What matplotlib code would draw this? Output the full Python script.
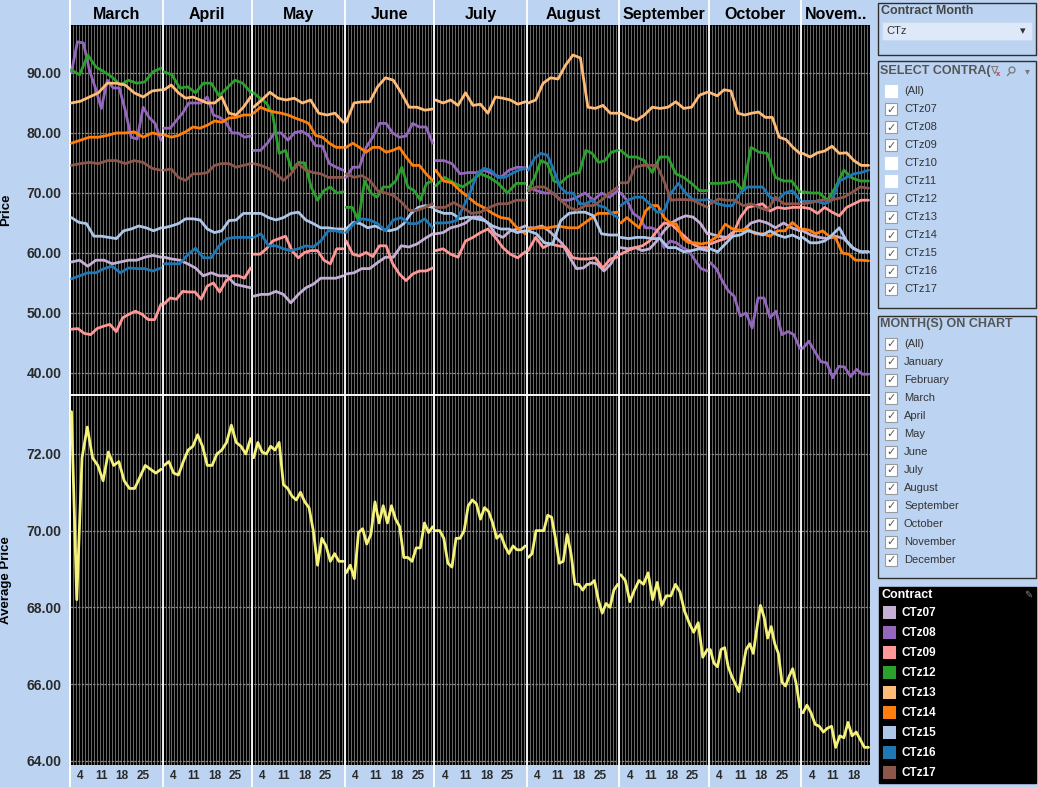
import numpy as np
import matplotlib.pyplot as plt
from matplotlib.patches import Rectangle, Circle

plt.rcParams['font.family'] = ['Liberation Sans', 'DejaVu Sans']

# --- DATA (values read per month, evenly spread over the days of that month) ---
MONTHS = ["March", "April", "May", "June", "July", "August", "September", "October", "Novem.."]
MONTH_DAYS = [31, 30, 31, 30, 31, 31, 30, 31, 23]
DAY_TICKS = [4, 11, 18, 25]

ctz07 = [
    [58.5, 58.8, 57.8, 58.8, 58.8, 58.2, 58.5, 58.8, 58.8, 59.3, 59.6, 59.3],
    [59.3, 59.0, 58.8, 58.2, 57.5, 56.2, 56.7, 56.2, 56.2, 54.8, 54.5, 54.2],
    [52.8, 53.1, 53.1, 53.6, 53.1, 51.7, 53.1, 54.2, 54.8, 55.8, 55.8, 55.8, 56.2],
    [56.5, 56.7, 57.4, 57.4, 58.4, 59.3, 59.3, 61.2, 61.0, 61.5, 62.4, 63.2],
    [63.2, 63.4, 64.2, 64.5, 65.0, 66.0, 66.0, 65.0, 63.2, 62.6, 63.7, 64.0, 64.5],
    [64.2, 64.2, 64.5, 63.7, 62.6, 61.5, 59.3, 57.4, 57.5, 58.4, 58.2, 57.0, 58.2, 60.2],
    [60.9, 60.7, 60.9, 60.4, 60.7, 62.0, 63.7, 65.0, 65.7, 66.2, 66.0, 65.0, 63.2],
    [63.2, 62.8, 62.6, 63.7, 63.7, 65.0, 65.4, 65.0, 64.2, 65.0, 64.2, 63.7],
    [63.7, 63.0, 62.6, 62.4, 62.8, 62.4, 60.9, 60.2, 60.2],
]
ctz08 = [
    [90.2, 95.2, 95.0, 90.5, 87.5, 84.1, 88.8, 87.5, 87.5, 83.8, 79.3, 79.0, 84.3, 82.6, 81.6, 78.8],
    [80.8, 80.8, 82.1, 83.3, 85.0, 85.0, 85.0, 86.0, 83.0, 82.6, 81.8, 80.0, 80.0, 79.3, 79.5],
    [77.1, 77.1, 78.3, 80.0, 80.0, 78.8, 80.1, 80.3, 79.6, 77.9, 77.8, 74.9, 74.3, 73.8],
    [72.6, 74.3, 74.3, 77.6, 79.3, 81.6, 81.6, 80.0, 79.3, 79.5, 81.6, 81.0, 81.0, 78.3],
    [75.4, 75.4, 74.9, 73.2, 73.4, 73.4, 73.8, 73.2, 72.6, 73.8, 74.3, 74.2],
    [71.0, 70.4, 70.0, 70.0, 68.8, 68.8, 69.3, 70.0, 68.8, 70.0, 69.3, 70.4],
    [70.0, 68.8, 66.6, 65.9, 64.2, 64.2, 63.7, 60.9, 62.0, 61.7, 60.9, 60.4, 58.8, 57.4, 57.0],
    [58.4, 57.4, 55.4, 53.7, 52.8, 49.5, 50.0, 47.5, 52.5, 52.5, 49.2, 50.3, 46.4, 46.9, 46.4, 44.1],
    [44.1, 45.3, 43.6, 41.9, 41.7, 39.2, 41.1, 41.0, 39.4, 40.6, 39.8, 39.8],
]
ctz09 = [
    [47.3, 47.4, 46.6, 46.4, 47.4, 47.8, 48.1, 46.9, 49.2, 49.8, 50.3, 49.8, 48.9, 48.9, 51.5],
    [51.5, 52.5, 52.3, 53.6, 53.5, 53.5, 52.3, 54.5, 55.0, 53.5, 55.3, 56.2, 56.2, 55.8, 57.5],
    [59.8, 59.8, 60.7, 62.0, 62.4, 62.8, 60.4, 59.2, 60.1, 60.4, 60.4, 58.8, 58.2, 60.7, 60.7],
    [62.0, 59.8, 59.5, 60.1, 59.4, 61.2, 61.2, 58.2, 56.5, 55.4, 56.5, 57.0, 57.0, 57.5],
    [60.4, 60.7, 59.8, 59.3, 62.0, 62.6, 63.4, 64.0, 62.6, 60.9, 59.8, 59.2, 60.2],
    [60.4, 62.6, 60.9, 61.5, 61.2, 61.0, 59.2, 59.0, 59.0, 59.2, 57.5, 59.0, 59.3],
    [59.8, 60.4, 60.9, 61.2, 62.0, 63.7, 65.0, 64.8, 63.7, 62.6, 61.5, 60.9, 60.9],
    [61.5, 62.0, 62.4, 63.0, 65.9, 67.6, 67.9, 68.2, 67.0, 67.6, 67.4, 67.6, 67.6],
    [67.6, 67.4, 66.6, 67.6, 66.8, 66.2, 67.6, 68.2, 68.8, 68.8],
]
ctz12 = [
    [90.5, 89.7, 93.0, 91.0, 90.2, 89.3, 88.0, 88.8, 88.3, 88.5, 90.2, 90.8],
    [90.2, 89.7, 87.5, 87.7, 86.7, 88.3, 88.3, 86.2, 87.5, 88.8, 88.3, 86.8],
    [86.7, 85.8, 85.0, 83.0, 76.6, 77.1, 73.8, 75.1, 75.0, 71.0, 68.8, 70.4, 71.0, 70.0, 70.2],
    [67.6, 67.6, 65.4, 72.0, 70.0, 69.3, 71.0, 71.0, 72.0, 74.3, 71.0, 70.4, 68.8, 71.6, 72.0],
    [71.2, 72.6, 71.7, 71.0, 72.0, 73.2, 72.6, 71.6, 70.0, 71.6, 71.6],
    [70.4, 72.6, 75.4, 74.9, 72.0, 71.6, 72.6, 73.2, 73.4, 77.1, 76.6, 75.1, 75.4, 76.8, 77.1],
    [77.1, 76.0, 76.0, 75.4, 73.4, 76.0, 76.0, 73.2, 72.6, 71.6, 70.4, 70.4],
    [71.6, 71.6, 71.7, 72.0, 70.4, 77.6, 76.8, 76.6, 72.6, 72.0, 72.0, 70.2],
    [70.2, 70.0, 70.0, 68.8, 71.0, 73.8, 72.5, 72.0, 72.0],
]
ctz13 = [
    [85.0, 85.3, 86.0, 86.7, 88.3, 88.3, 88.0, 86.7, 86.0, 87.0, 87.2],
    [87.2, 88.0, 86.7, 85.8, 86.0, 85.5, 85.0, 85.0, 86.0, 83.3, 83.0, 84.3, 86.0],
    [84.3, 85.5, 86.8, 85.8, 85.5, 85.8, 85.0, 85.5, 83.3, 83.0, 83.3, 81.8],
    [81.8, 85.0, 85.2, 85.2, 87.7, 89.2, 88.8, 86.7, 84.3, 84.3, 83.8, 84.0],
    [85.5, 85.0, 85.5, 84.6, 86.7, 84.6, 84.8, 83.3, 86.0, 85.8, 85.5, 84.8, 85.2],
    [85.0, 85.5, 88.3, 89.2, 89.0, 91.3, 93.0, 92.5, 84.3, 84.1, 84.6, 83.3, 83.3],
    [83.3, 82.6, 82.1, 83.0, 84.3, 84.1, 84.3, 85.2, 84.1, 84.3, 86.3, 86.8],
    [86.7, 86.2, 87.2, 87.0, 83.3, 83.0, 83.3, 83.5, 82.6, 82.6, 79.3, 78.9, 77.6, 76.6],
    [76.6, 76.0, 76.7, 77.0, 77.8, 76.6, 76.7, 75.4, 74.6, 74.6],
]
ctz14 = [
    [78.3, 78.8, 79.3, 79.3, 79.6, 80.0, 80.0, 80.2, 79.3, 80.0, 79.7],
    [79.7, 79.3, 79.6, 80.2, 81.0, 80.8, 81.3, 82.0, 81.8, 82.5, 82.6, 83.0, 83.0],
    [83.3, 84.3, 83.8, 83.5, 83.3, 83.0, 82.5, 82.1, 81.6, 79.6, 79.3, 78.3, 77.6, 77.6],
    [77.6, 78.3, 77.6, 76.8, 77.6, 77.6, 76.8, 77.1, 77.6, 76.0, 74.6, 74.6, 73.2, 72.1],
    [73.8, 72.0, 71.7, 70.4, 69.3, 68.2, 67.5, 66.6, 65.9, 65.7, 64.2, 63.2],
    [64.0, 64.2, 64.2, 64.5, 64.2, 64.2, 65.4, 66.6, 66.6, 66.8],
    [65.0, 65.9, 65.0, 64.2, 67.0, 67.9, 67.9, 65.9, 65.0, 64.8, 62.5, 61.7, 61.7, 61.5, 61.7],
    [62.0, 62.8, 64.8, 64.0, 63.8, 64.0, 63.2, 63.2, 62.8, 63.7, 63.7, 65.1, 64.0],
    [64.0, 63.8, 63.2, 63.7, 62.8, 62.5, 60.0, 59.8, 58.8, 58.8, 58.7],
]
ctz15 = [
    [65.9, 65.1, 64.9, 62.8, 62.8, 62.6, 62.4, 63.7, 64.0, 64.5, 64.2, 63.7, 64.2],
    [64.2, 64.5, 64.9, 65.7, 65.7, 65.5, 64.0, 63.4, 63.7, 65.4, 65.5, 66.6, 66.6],
    [66.6, 66.6, 65.9, 65.5, 65.9, 66.6, 66.8, 65.5, 64.9, 64.2, 64.2, 64.0, 64.0],
    [64.0, 65.1, 64.9, 64.2, 64.5, 64.0, 63.7, 64.0, 64.9, 66.6, 67.6, 67.9, 67.6],
    [67.1, 66.6, 66.6, 65.7, 66.0, 65.7, 65.4, 64.5, 64.0, 64.0, 63.4, 63.7],
    [63.7, 63.2, 61.7, 61.5, 65.4, 66.6, 66.8, 66.8, 66.2, 63.2, 63.0, 63.0],
    [62.6, 62.4, 62.6, 62.6, 62.4, 62.4, 60.9, 60.9, 60.2, 60.4, 60.7, 60.4],
    [60.7, 60.2, 61.5, 62.8, 63.0, 63.7, 63.4, 63.0, 63.7, 63.0, 62.6, 63.0, 62.4],
    [62.6, 61.7, 61.7, 62.0, 63.0, 64.2, 62.0, 60.7, 60.2, 60.2],
]
ctz16 = [
    [55.7, 56.2, 56.7, 56.7, 57.4, 57.8, 56.7, 57.5, 57.4, 57.4, 57.0, 57.5],
    [58.2, 58.2, 58.2, 59.7, 60.8, 59.2, 59.2, 61.2, 62.4, 62.6, 62.6, 62.6],
    [62.6, 63.2, 61.2, 61.2, 60.7, 60.4, 60.7, 61.2, 61.0, 62.0, 63.7, 63.7, 63.4],
    [63.4, 64.9, 65.7, 65.5, 64.9, 63.7, 65.5, 65.9, 64.9, 64.9, 65.7, 64.2],
    [65.0, 65.0, 65.1, 65.4, 67.6, 70.0, 73.2, 74.1, 73.8, 72.6, 72.6, 73.2, 73.8, 74.1],
    [73.8, 75.8, 76.6, 76.3, 73.8, 71.0, 70.0, 70.0, 68.2, 68.2, 68.8, 67.9, 67.6, 66.6, 65.9],
    [67.9, 68.8, 69.3, 69.3, 68.2, 66.8, 67.0, 70.0, 71.6, 70.0, 68.9, 68.8, 68.9],
    [68.8, 68.2, 67.9, 67.9, 70.0, 71.0, 71.0, 71.0, 69.3, 68.8, 70.0, 70.4, 68.8],
    [68.6, 68.6, 68.6, 68.2, 68.8, 72.0, 72.6, 73.2, 73.4, 73.8],
]
ctz17 = [
    [74.6, 74.9, 75.1, 74.9, 75.4, 75.4, 74.9, 75.4, 75.1, 74.1, 73.8],
    [73.8, 74.0, 72.6, 72.1, 73.2, 73.2, 73.4, 74.6, 74.9, 74.9, 74.3, 74.6, 74.9],
    [74.9, 74.6, 74.1, 73.2, 72.1, 73.2, 74.9, 73.8, 73.4, 73.2, 72.6, 72.6, 72.6],
    [73.2, 72.6, 72.9, 72.1, 70.4, 70.0, 69.6, 68.5, 67.1, 67.1, 67.6, 68.2],
    [67.6, 67.6, 68.4, 67.6, 66.6, 66.8, 67.6, 68.2, 68.2, 68.8, 68.8],
    [70.4, 71.0, 71.0, 70.0, 68.8, 67.6, 67.1, 67.9, 67.9, 68.8, 70.0, 71.0],
    [71.7, 71.7, 74.3, 74.6, 74.6, 74.6, 72.0, 68.8, 68.9, 68.9, 68.8, 68.2, 67.6],
    [68.2, 69.0, 68.8, 68.8, 67.9, 68.2, 67.6, 67.1, 69.3, 68.2, 68.2, 68.2],
    [68.2, 68.4, 68.8, 68.8, 69.0, 69.3, 70.1, 71.0, 70.8],
]
avg_price = [
    [73.1, 68.2, 71.9, 72.7, 71.9, 71.7, 71.3, 72.05, 71.7, 71.8, 71.3, 71.1, 71.1, 71.4, 71.7, 71.6, 71.5, 71.6],
    [71.7, 71.8, 71.5, 71.45, 71.8, 72.1, 72.2, 72.5, 72.2, 71.7, 71.7, 72.0, 72.1, 72.3, 72.75, 72.3, 72.2, 72.0, 72.4],
    [71.9, 72.3, 72.05, 72.0, 72.2, 72.1, 72.3, 71.2, 71.1, 70.9, 70.8, 71.0, 70.75, 70.6, 70.0, 69.1, 69.8,
     69.6, 69.2, 69.4, 69.2, 69.2],
    [68.9, 69.1, 68.75, 69.95, 70.05, 69.65, 69.9, 70.75, 70.2, 70.65, 70.2, 70.65, 70.3, 70.1, 69.3, 69.3,
     69.2, 69.55, 69.55, 70.2, 69.95, 70.1],
    [70.0, 70.0, 69.8, 69.15, 69.05, 69.8, 69.8, 70.0, 70.65, 70.8, 70.7, 70.3, 70.6, 70.5, 70.2, 69.8, 69.9,
     69.6, 69.4, 69.6, 69.5, 69.5, 69.6],
    [69.3, 69.4, 70.0, 70.0, 70.0, 70.4, 70.35, 69.8, 69.15, 69.2, 69.9, 69.4, 68.6, 68.6, 68.45, 68.6, 68.6,
     68.7, 68.2, 67.85, 68.1, 68.0, 68.45, 68.6],
    [68.85, 68.7, 68.15, 68.45, 68.7, 68.6, 68.9, 68.2, 68.65, 68.05, 68.3, 68.3, 68.6, 68.4, 67.9, 67.6,
     67.35, 67.6, 66.7, 66.9],
    [66.9, 66.55, 66.45, 66.9, 66.95, 66.45, 66.2, 66.0, 65.8, 66.4, 66.9, 67.05, 66.8, 67.45, 68.05, 67.75,
     67.2, 67.5, 67.05, 66.8, 66.05, 65.95, 66.2, 66.4, 66.0, 65.4],
    [65.25, 65.45, 65.25, 64.95, 64.9, 64.75, 64.85, 64.9, 64.35, 64.65, 64.6, 65.0, 64.65, 64.75, 64.55,
     64.35, 64.35],
]

legend_names = ['CTz07', 'CTz08', 'CTz09', 'CTz12', 'CTz13', 'CTz14', 'CTz15', 'CTz16', 'CTz17']
legend_colors = ['#c5b0d5', '#9467bd', '#ff9896', '#2ca02c', '#ffbb78', '#ff7f0e', '#aec7e8', '#1f77b4', '#8c564b']
series = [ctz07, ctz08, ctz09, ctz12, ctz13, ctz14, ctz15, ctz16, ctz17]

contract_items = ['(All)', 'CTz07', 'CTz08', 'CTz09', 'CTz10', 'CTz11',
                  'CTz12', 'CTz13', 'CTz14', 'CTz15', 'CTz16', 'CTz17']
contract_checked = [False, True, True, True, False, False, True, True, True, True, True, True]
month_items = ['(All)', 'January', 'February', 'March', 'April', 'May', 'June', 'July',
               'August', 'September', 'October', 'November', 'December']

BG = '#bcd4f2'
W, H = 1038, 787


def frame(x0, y0, x1, y1):
    # pixel box (top-left origin) -> figure fraction
    return [x0 / W, 1 - y1 / H, (x1 - x0) / W, (y1 - y0) / H]


fig = plt.figure(figsize=(W / 100, H / 100), dpi=100)
fig.patch.set_facecolor(BG)

ov = fig.add_axes([0, 0, 1, 1], zorder=-1)
ov.set_xlim(0, W)
ov.set_ylim(H, 0)
ov.axis('off')

ax_top = fig.add_axes(frame(70, 25, 870, 394))
ax_bot = fig.add_axes(frame(70, 396, 870, 765))

starts = np.concatenate([[0], np.cumsum(MONTH_DAYS)[:-1]])
total = sum(MONTH_DAYS)


def draw_series(ax, months_vals, color):
    for m, vals in enumerate(months_vals):
        x = np.linspace(starts[m] + 0.5, starts[m] + MONTH_DAYS[m] - 0.5, len(vals))
        ax.plot(x, vals, color=color, lw=2.0, solid_joinstyle='round', solid_capstyle='round', zorder=3)


for ax in (ax_top, ax_bot):
    ax.set_facecolor('black')
    ax.set_xlim(0, total)
    for s in ax.spines.values():
        s.set_visible(False)
    ax.vlines(np.arange(1, total), 0, 1, transform=ax.get_xaxis_transform(),
              colors='#7c7c7c', lw=0.6, zorder=0.5)
    ax.grid(axis='y', color='#8a8a8a', lw=0.9, ls=(0, (2, 1)), zorder=1)
    ax.set_axisbelow(True)
    ax.tick_params(axis='y', length=0, pad=6)

# white month separators, running into header and tick band
for x in list(starts) + [0]:
    ax_top.axvline(x, 0, 1.068, color='white', lw=1.3, clip_on=False, zorder=2)
    ax_bot.axvline(x, -0.06, 1, color='white', lw=1.3, clip_on=False, zorder=2)
ov.plot([70, 870], [395, 395], color='white', lw=1.2)

for vals, col in zip(series, legend_colors):
    draw_series(ax_top, vals, col)
draw_series(ax_bot, avg_price, '#f5f27a')

ax_top.set_ylim(36.5, 98.0)
ax_bot.set_ylim(63.89, 73.51)

top_ticks = [40, 50, 60, 70, 80, 90]
bot_ticks = [64, 66, 68, 70, 72]
ax_top.set_yticks(top_ticks, [f'{v:.2f}' for v in top_ticks], fontsize=10, fontweight='bold', color='#2a2a2a')
ax_bot.set_yticks(bot_ticks, [f'{v:.2f}' for v in bot_ticks], fontsize=10, fontweight='bold', color='#2a2a2a')

tick_pos, tick_lab = [], []
for m, n in enumerate(MONTH_DAYS):
    for d in DAY_TICKS:
        if d <= n:
            tick_pos.append(starts[m] + d - 0.5)
            tick_lab.append(str(d))
ax_top.set_xticks([])
ax_bot.set_xticks(tick_pos, tick_lab, fontsize=8.5, fontweight='bold', color='#2a2a2a')
ax_bot.tick_params(axis='x', length=0, pad=3.5)

ax_top.set_ylabel('Price', fontsize=9.5, fontweight='bold', color='black')
ax_bot.set_ylabel('Average Price', fontsize=9.5, fontweight='bold', color='black')
ax_top.yaxis.set_label_coords(-0.072, 0.5)
ax_bot.yaxis.set_label_coords(-0.072, 0.5)

for m, name in enumerate(MONTHS):
    ax_top.annotate(name, xy=(starts[m] + MONTH_DAYS[m] / 2, 1), xycoords=('data', 'axes fraction'),
                    xytext=(0, 7.8), textcoords='offset points', ha='center', va='center',
                    fontsize=11.5, fontweight='bold', color='black')

# --- right side panels ---
PANEL_EDGE = '#2e2e2e'


def checkbox(y, checked):
    ov.add_patch(Rectangle((885, y - 6), 12, 12, fc='white', ec='#9a9a9a' if checked else 'white', lw=0.8))
    if checked:
        ov.text(891, y + 0.5, '\u2713', fontsize=8, color='#555555', ha='center', va='center',
                family=['DejaVu Sans'])


# Contract Month
ov.add_patch(Rectangle((878, 3), 158, 52, fc=BG, ec=PANEL_EDGE, lw=1))
ov.text(881, 11, 'Contract Month', fontsize=9, fontweight='bold', color='#454545', va='center')
ov.add_patch(Rectangle((882, 22), 150, 18, fc='#dde9f8', ec='#c9d9ef', lw=0.8))
ov.text(886, 31, 'CTz', fontsize=8, color='#333333', va='center')
ov.text(1023, 31, '\u25BE', fontsize=8, color='#333333', va='center', ha='center', family=['DejaVu Sans'])

# SELECT CONTRACT
ov.add_patch(Rectangle((878, 61), 158, 247, fc=BG, ec=PANEL_EDGE, lw=1))
ov.text(880, 71, 'SELECT CONTRA(', fontsize=9, fontweight='bold', color='#555555', va='center')
ov.text(994, 71, '\u2207', fontsize=8, color='#777777', va='center', ha='center', family=['DejaVu Sans'])
ov.text(998, 74, 'x', fontsize=5.5, color='#d03030', va='center', ha='center', fontweight='bold')
# magnifier icon
ov.add_patch(Circle((1012, 70), 3, fc='none', ec='#777777', lw=0.9))
ov.plot([1010, 1007.5], [72.5, 75.5], color='#777777', lw=0.9)
ov.text(1027, 71, '\u25BE', fontsize=7, color='#777777', va='center', ha='center', family=['DejaVu Sans'])
for i, (item, chk) in enumerate(zip(contract_items, contract_checked)):
    y = 91 + i * 18
    checkbox(y, chk)
    ov.text(904, y, item, fontsize=8, color='#333333', va='center')

# MONTH(S) ON CHART
ov.add_patch(Rectangle((878, 316), 158, 262, fc=BG, ec=PANEL_EDGE, lw=1))
ov.text(880, 324, 'MONTH(S) ON CHART', fontsize=9, fontweight='bold', color='#555555', va='center')
for i, item in enumerate(month_items):
    y = 344 + i * 18
    checkbox(y, True)
    ov.text(904, y, item, fontsize=8, color='#333333', va='center')

# Contract legend
ov.add_patch(Rectangle((879, 587), 157, 196, fc='black', ec='black', lw=1))
ov.text(881, 595, 'Contract', fontsize=9, fontweight='bold', color='white', va='center')
ov.text(1028, 595, '\u270E', fontsize=7, color='#888888', va='center', ha='center', family=['DejaVu Sans'])
for i, (name, col) in enumerate(zip(legend_names, legend_colors)):
    y = 612.5 + i * 20
    ov.add_patch(Rectangle((883, y - 6.5), 13, 13, fc=col, ec=col, lw=0))
    ov.text(902, y, name, fontsize=8.5, fontweight='bold', color='white', va='center')

fig.savefig('out.png', dpi=100, facecolor=fig.get_facecolor())
